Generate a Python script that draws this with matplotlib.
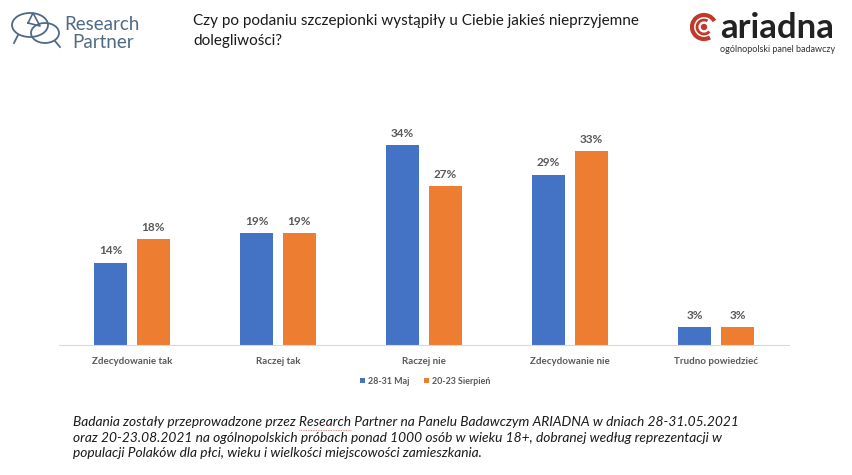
import matplotlib
matplotlib.use("Agg")
import matplotlib.pyplot as plt
import numpy as np
from matplotlib.patches import Ellipse, Circle, Arc

# Data
categories = ["Zdecydowanie tak", "Raczej tak", "Raczej nie", "Zdecydowanie nie", "Trudno powiedzieć"]
maj = [14, 19, 34, 29, 3]
sierpien = [18, 19, 27, 33, 3]
series_names = ["28-31 Maj", "20-23 Sierpień"]
colors = ["#4472C4", "#ED7D31"]

title = "Czy po podaniu szczepionki wystąpiły u Ciebie jakieś nieprzyjemne\ndolegliwości?"
foot_lines = ["Badania zostały przeprowadzone przez Research Partner na Panelu Badawczym ARIADNA w dniach 28-31.05.2021",
              "oraz 20-23.08.2021 na ogólnopolskich próbach ponad 1000 osób w wieku 18+, dobranej według reprezentacji w",
              "populacji Polaków dla płci, wieku i wielkości miejscowości zamieszkania."]

plt.rcParams['font.family'] = ['Lato', 'DejaVu Sans']

W, H = 852, 475
fig = plt.figure(figsize=(W / 100, H / 100), dpi=100)
fig.patch.set_facecolor("white")

ax = fig.add_axes([59 / W, (H - 345) / H, 730 / W, 235 / H])
x = np.arange(len(categories))
bw = 0.226
off = 0.147
b1 = ax.bar(x - off, maj, bw, color=colors[0], label=series_names[0])
b2 = ax.bar(x + off, sierpien, bw, color=colors[1], label=series_names[1])
for bars, vals in ((b1, maj), (b2, sierpien)):
    for r, v in zip(bars, vals):
        ax.text(r.get_x() + r.get_width() / 2, v + 1.1, f"{v}%", ha="center", va="bottom",
                fontsize=8.5, fontweight="bold", color="#595959")

ax.set_xlim(-0.5, len(categories) - 0.5)
ax.set_ylim(0, 40)
ax.set_yticks([])
ax.set_xticks(x)
ax.set_xticklabels(categories, fontsize=7, fontweight="bold", color="#595959")
ax.tick_params(axis="x", length=0, pad=9)
for s in ["top", "right", "left"]:
    ax.spines[s].set_visible(False)
ax.spines["bottom"].set_color("#D9D9D9")

leg = fig.legend(handles=[b1, b2], labels=series_names, loc="center", bbox_to_anchor=(425 / W, (H - 381) / H),
                 ncol=2, frameon=False, fontsize=6.4, handlelength=0.6, handleheight=0.6,
                 handletextpad=0.3, columnspacing=1.6)
for t in leg.get_texts():
    t.set_color("#595959")
    t.set_fontweight("bold")

# title
fig.text(193 / W, (H - 14) / H, title, ha="left", va="top", fontsize=11, color="#1a1a1a", linespacing=1.5)

# footnote
foot = fig.text(73 / W, (H - 416) / H, "\n".join(foot_lines), ha="left", va="top", fontsize=9.9,
                style="italic", color="#1a1a1a", linespacing=1.36)
# spell-check squiggle under "Research" in the footnote
r = fig.canvas.get_renderer()
pre = fig.text(0, 0, "Badania zostały przeprowadzone przez ", fontsize=9.9, style="italic")
word = fig.text(0, 0, "Research", fontsize=9.9, style="italic")
x0 = 73 + pre.get_window_extent(r).width
x1 = x0 + word.get_window_extent(r).width
pre.remove()
word.remove()
fig.add_artist(plt.Line2D([x0 / W, x1 / W], [(H - 429.5) / H] * 2, color="#E06060", lw=0.6, ls=(0, (1, 1))))

# Research Partner logo
lax = fig.add_axes([0, (H - 60) / H, 200 / W, 60 / H])
lax.set_xlim(0, 200)
lax.set_ylim(60, 0)
lax.axis("off")
c = "#4E6A85"
lax.add_patch(Ellipse((30, 25), 36, 24, fill=False, ec=c, lw=1.3))
lax.add_patch(Ellipse((45, 33), 28, 20, fill=False, ec=c, lw=1.3))
lax.plot([28, 33, 40, 28], [23, 13, 26, 23], color=c, lw=1.2)
lax.plot([18, 14], [35, 43], color=c, lw=1.3)
lax.plot([55, 60], [41, 47], color=c, lw=1.3)
lax.text(64, 25, "Research", fontsize=13.5, color="#4E6A85", va="center", ha="left")
lax.text(72, 42, "Partner", fontsize=13.5, color="#4E6A85", va="center", ha="left")

# ARIADNA logo
rax = fig.add_axes([640 / W, (H - 70) / H, 212 / W, 70 / H])
rax.set_xlim(640, 852)
rax.set_ylim(70, 0)
rax.set_aspect("equal")
rax.axis("off")
red = "#C0392B"
rax.add_patch(Arc((704, 27), 24, 24, theta1=60, theta2=330, color=red, lw=3))
rax.add_patch(Arc((704, 27), 14, 14, theta1=40, theta2=300, color=red, lw=2))
rax.add_patch(Circle((704, 27), 2.5, color=red))
rax.text(720, 28, "ariadna", fontsize=25, fontweight="bold", color="#222222", va="center", ha="left")
rax.text(835, 49, "ogólnopolski panel badawczy", fontsize=6.5, color="#333333", va="center", ha="right")

fig.savefig("out.png", dpi=100, facecolor="white")
